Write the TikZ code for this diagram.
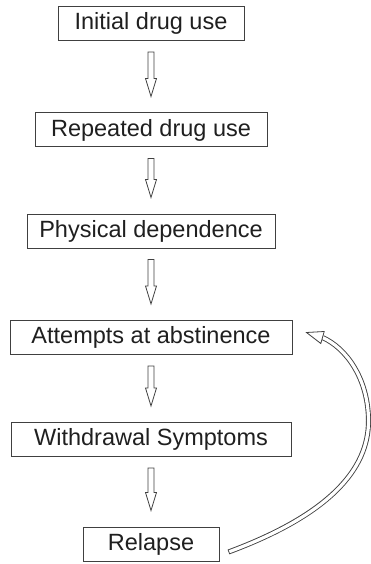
\documentclass[tikz,border=0pt]{standalone}
\usepackage{fontspec}
\setmainfont{Liberation Sans}
\usetikzlibrary{calc}
\begin{document}
\begin{tikzpicture}[x=1pt,y=-1pt,
  stage/.style={draw=black!75, line width=1pt, minimum height=34pt, inner sep=0pt,
    font=\fontsize{23.5}{26}\selectfont, text=black!88},
  blockarrow/.style={draw=black!75, line width=0.8pt, fill=white, line join=miter}]
\useasboundingbox (0,0) rectangle (371,564);
\node[stage, minimum width=186pt] (s1) at (151,23.5) {Initial drug use};
\node[stage, minimum width=232pt] (s2) at (151,130) {Repeated drug use};
\node[stage, minimum width=248pt] (s3) at (151,231) {Physical dependence};
\node[stage, minimum width=282pt] (s4) at (151,337.5) {Attempts at abstinence};
\node[stage, minimum width=280pt] (s5) at (151,439.5) {Withdrawal Symptoms};
\node[stage, minimum width=136pt] (s6) at (151,544) {Relapse};
% hollow block arrows between consecutive stages
\foreach \a/\b in {s1/s2, s2/s3, s3/s4, s4/s5, s5/s6}{
  \coordinate (t) at ($(\a.south)+(0,11)$);
  \coordinate (h) at ($(\b.north)+(0,-16)$);
  \draw[blockarrow] ($(t)+(-3,0)$) -- ($(t)+(3,0)$) -- ($(h)+(3,-18)$)
    -- ($(h)+(5.5,-18)$) -- (h) -- ($(h)+(-5.5,-18)$) -- ($(h)+(-3,-18)$) -- cycle;
}
% return loop from relapse back to attempts at abstinence
\coordinate (loopstart) at ($(s6.east)+(9,8)$);
\coordinate (looptip) at ($(s4.east)+(14,-5)$);
\coordinate (loopbase) at ($(looptip)+(16,5)$);
\draw[black!75, line width=5pt,
      postaction={draw, white, line width=3.2pt, shorten <=0.9pt}]
  (loopstart) .. controls (328,515) and (369,470) .. (368.5,420)
  .. controls (368,378) and (346,348) .. (loopbase);
\draw[blockarrow] (looptip) -- ($(loopbase)+(-1.7,6)$) -- ($(loopbase)+(1.7,-6)$) -- cycle;
\end{tikzpicture}
\end{document}
